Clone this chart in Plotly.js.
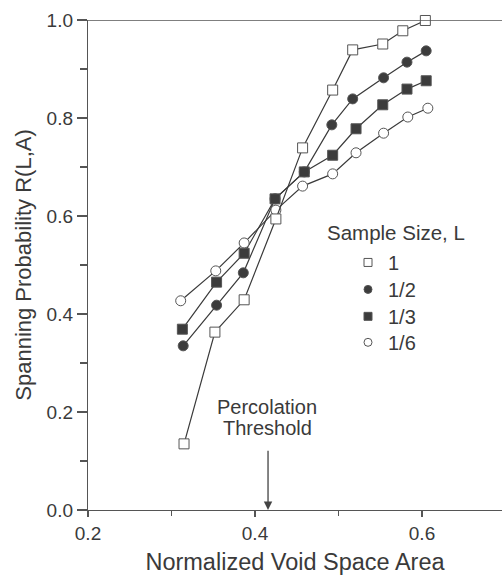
<!DOCTYPE html>
<html>
<head>
<meta charset="utf-8">
<script src="https://cdn.plot.ly/plotly-3.0.1.min.js"></script>
<style>html,body{margin:0;padding:0;background:#fff;}#chart{width:502px;height:575px;}</style>
</head>
<body>
<div id="chart"></div>
<script>
// Data
const x_L1   = [0.315, 0.352, 0.387, 0.425, 0.457, 0.493, 0.517, 0.553, 0.577, 0.604];
const y_L1   = [0.135, 0.363, 0.429, 0.594, 0.739, 0.857, 0.939, 0.951, 0.978, 0.999];
const x_L2   = [0.314, 0.354, 0.386, 0.424, 0.459, 0.492, 0.517, 0.554, 0.582, 0.605];
const y_L2   = [0.335, 0.418, 0.484, 0.635, 0.690, 0.786, 0.839, 0.882, 0.914, 0.937];
const x_L3   = [0.313, 0.354, 0.387, 0.424, 0.459, 0.493, 0.521, 0.553, 0.582, 0.605];
const y_L3   = [0.369, 0.465, 0.524, 0.635, 0.690, 0.724, 0.778, 0.827, 0.859, 0.876];
const x_L6   = [0.311, 0.353, 0.387, 0.425, 0.457, 0.493, 0.521, 0.554, 0.583, 0.607];
const y_L6   = [0.427, 0.488, 0.545, 0.612, 0.661, 0.686, 0.729, 0.769, 0.802, 0.820];
const seriesNames = ['1', '1/2', '1/3', '1/6'];
const thresholdX = 0.4156;
const xTickVals = [0.2, 0.4, 0.6];
const yTickVals = [0.0, 0.2, 0.4, 0.6, 0.8, 1.0];

const ink = '#3a3a3a';
const FONT = 'Liberation Sans, Arial, Helvetica, sans-serif';

function series(x, y, symbol, fill, size) {
  return {
    x: x, y: y, type: 'scatter', mode: 'lines+markers', showlegend: false,
    cliponaxis: false,
    line: {color: ink, width: 1.2},
    marker: {symbol: symbol, size: size, color: fill, line: {color: '#555', width: 1}}
  };
}
function legendItem(name, symbol, fill, size, legendId) {
  return {
    x: [null], y: [null], type: 'scatter', mode: 'markers', name: name,
    legend: legendId, showlegend: true,
    marker: {symbol: symbol, size: size, color: fill, line: {color: '#555', width: 1}}
  };
}

const traces = [
  series(x_L2, y_L2, 'circle', '#3c3c3c', 10),
  series(x_L3, y_L3, 'square', '#3c3c3c', 10),
  series(x_L6, y_L6, 'circle', '#ffffff', 10),
  series(x_L1, y_L1, 'square', '#ffffff', 10),
  legendItem(seriesNames[0], 'square', '#ffffff', 8, 'legend'),
  legendItem(seriesNames[1], 'circle', '#3c3c3c', 8, 'legend2'),
  legendItem(seriesNames[2], 'square', '#3c3c3c', 8, 'legend3'),
  legendItem(seriesNames[3], 'circle', '#ffffff', 8, 'legend4')
];

function legendBox(yTop) {
  return {
    x: (348 - 88) / (502 - 88), xref: 'paper', y: yTop, yref: 'paper',
    xanchor: 'left', yanchor: 'top',
    bgcolor: 'rgba(0,0,0,0)', borderwidth: 0,
    font: {family: FONT, size: 20, color: ink}, itemwidth: 30
  };
}

const layout = {
  width: 502, height: 575,
  margin: {l: 88, r: 0, t: 20, b: 65},
  paper_bgcolor: '#ffffff', plot_bgcolor: '#ffffff',
  font: {family: FONT, color: ink, size: 18},
  showlegend: true,
  legend: legendBox(0.545),
  legend2: legendBox(0.490),
  legend3: legendBox(0.435),
  legend4: legendBox(0.382),
  xaxis: {
    range: [0.2, 0.6958], showgrid: false, zeroline: false,
    showline: true, linecolor: '#555', linewidth: 1.2, mirror: false,
    tickvals: xTickVals, ticktext: xTickVals.map(v => v.toFixed(1)),
    ticks: 'outside', ticklen: 6, tickcolor: '#555', tickwidth: 1.2,
    minor: {dtick: 0.1, tick0: 0.2, ticks: 'outside', ticklen: 5, tickcolor: '#555', tickwidth: 1.2},
    tickfont: {size: 19, color: ink},
    title: {text: 'Normalized Void Space Area', font: {size: 23.5, color: ink}, standoff: 19}
  },
  yaxis: {
    range: [0, 1], showgrid: false, zeroline: false,
    showline: true, linecolor: '#555', linewidth: 1.2,
    tickvals: yTickVals, ticktext: yTickVals.map(v => v.toFixed(1)),
    ticks: 'outside', ticklen: 10, tickcolor: '#555', tickwidth: 1.2,
    minor: {dtick: 0.1, tick0: 0, ticks: 'outside', ticklen: 7, tickcolor: '#555', tickwidth: 1.2},
    tickfont: {size: 19, color: ink},
    title: {text: 'Spanning Probability R(L,A)', font: {size: 22, color: ink}, standoff: 8}
  },
  shapes: [
    {type: 'line', xref: 'paper', yref: 'y', x0: 0, x1: 1, y0: 1, y1: 1, line: {color: '#555', width: 1.4}}
  ],
  annotations: [
    {xref: 'x', yref: 'y', x: thresholdX, y: 0, axref: 'x', ayref: 'y', ax: thresholdX, ay: 0.124,
     showarrow: true, arrowhead: 2, arrowsize: 1.3, arrowwidth: 1.3, arrowcolor: '#444', text: '', standoff: 0},
    {xref: 'x', yref: 'y', x: 0.4144, y: 0.210, text: 'Percolation', showarrow: false,
     font: {size: 20, color: ink}, xanchor: 'center', yanchor: 'middle'},
    {xref: 'x', yref: 'y', x: 0.4144, y: 0.167, text: 'Threshold', showarrow: false,
     font: {size: 20, color: ink}, xanchor: 'center', yanchor: 'middle'},
    {xref: 'x', yref: 'y', x: 0.4838, y: 0.567, text: 'Sample Size, L', showarrow: false,
     font: {size: 20.5, color: ink}, xanchor: 'left', yanchor: 'middle'}
  ]
};

Plotly.newPlot('chart', traces, layout, {displayModeBar: false, staticPlot: true});
</script>
</body>
</html>
